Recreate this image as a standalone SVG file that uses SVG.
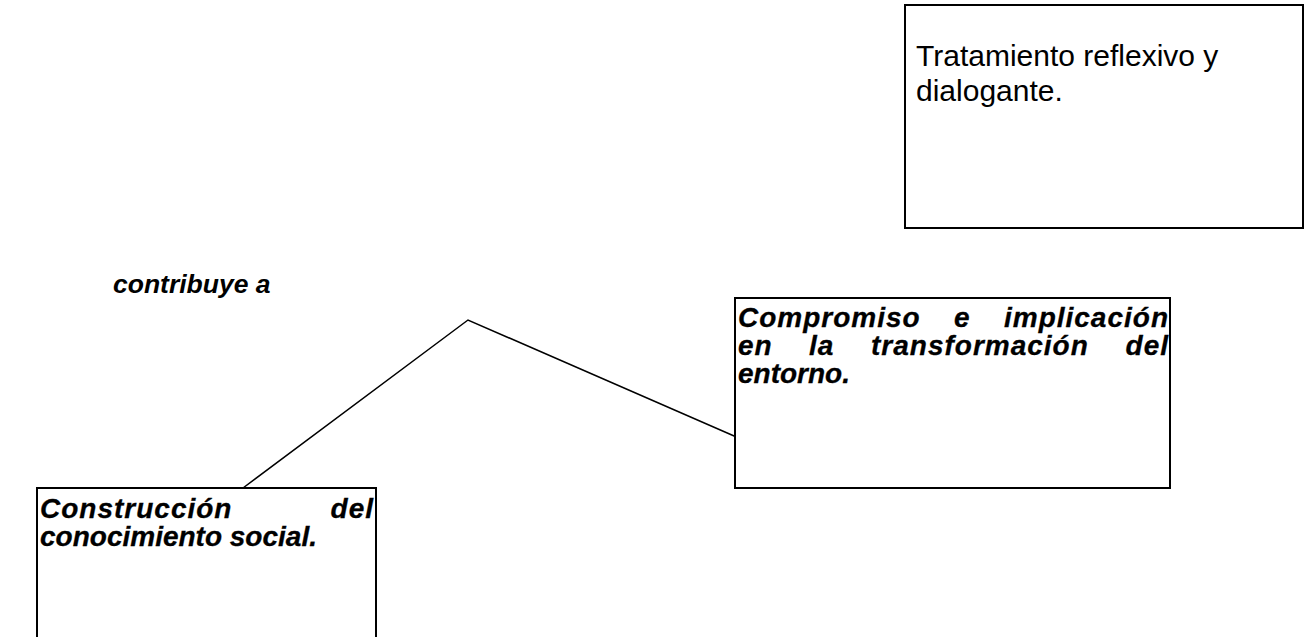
<svg xmlns="http://www.w3.org/2000/svg" width="1305" height="637" viewBox="0 0 1305 637">
<style>
.box{fill:#fff;stroke:#000;stroke-width:2}
.reg{font-family:"Liberation Sans",Arial,sans-serif;font-size:30px;fill:#000}
.bi{font-family:"Liberation Sans",Arial,sans-serif;font-size:28px;font-weight:bold;font-style:italic;fill:#000;stroke:#000;stroke-width:0.3}
.j{letter-spacing:1px}
.lbl{font-family:"Liberation Sans",Arial,sans-serif;font-size:26.5px;font-weight:bold;font-style:italic;fill:#000}
.end{text-anchor:end}
.conn{fill:none;stroke:#000;stroke-width:1.5}
</style>
<rect width="1305" height="637" fill="#fff"/>
<g id="connectors">
<polyline class="conn" points="243,488 468,320 741,439"/>
</g>
<g id="label-contribuye">
<text class="lbl" x="113" y="293">contribuye a</text>
</g>
<g id="node-tratamiento">
<rect class="box" x="905" y="5" width="398" height="223"/>
<text class="reg" x="916" y="66">Tratamiento reflexivo y</text>
<text class="reg" x="916" y="101">dialogante.</text>
</g>
<g id="node-compromiso">
<rect class="box" x="735" y="298" width="435" height="190"/>
<text class="bi j" x="738" y="327">Compromiso</text>
<text class="bi j" x="954" y="327">e</text>
<text class="bi j end" x="1169" y="327">implicación</text>
<text class="bi j" x="738" y="355">en</text>
<text class="bi j" x="809" y="355">la</text>
<text class="bi j" x="871" y="355">transformación</text>
<text class="bi j end" x="1169" y="355">del</text>
<text class="bi" x="738" y="383">entorno.</text>
</g>
<g id="node-construccion">
<rect class="box" x="37" y="488" width="339" height="160"/>
<text class="bi j" x="40" y="518">Construcción</text>
<text class="bi j end" x="374" y="518">del</text>
<text class="bi" x="40" y="546">conocimiento social.</text>
</g>
</svg>
